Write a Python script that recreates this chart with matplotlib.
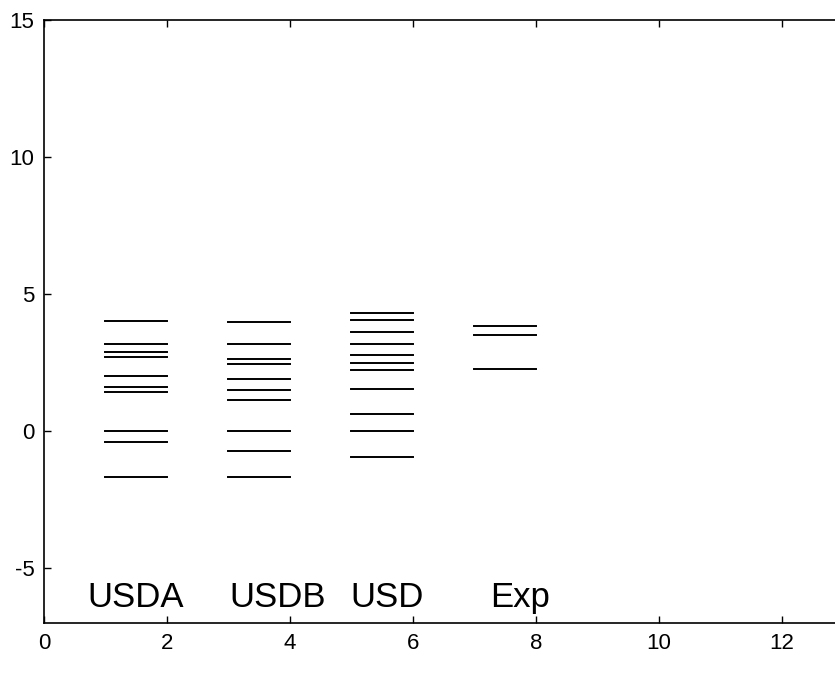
import matplotlib
matplotlib.use("Agg")
import matplotlib.pyplot as plt

plt.rcParams['font.family'] = ['Liberation Sans', 'DejaVu Sans']

# energy levels per set, drawn as short horizontal bars
usda = [4.03, 3.18, 2.89, 2.70, 2.01, 1.62, 1.41, 0.0, -0.41, -1.68]
usdb = [3.97, 3.16, 2.62, 2.46, 1.89, 1.49, 1.14, 0.0, -0.74, -1.68]
usd = [4.30, 4.04, 3.62, 3.16, 2.76, 2.49, 2.22, 1.54, 0.61, 0.0, -0.94]
exp = [3.83, 3.51, 2.27]

groups = [usda, usdb, usd, exp]
x_spans = [(1, 2), (3, 4), (5, 6), (7, 8)]
names = ["USDA", "USDB", "USD", "Exp"]
name_x = [0.70, 3.02, 4.99, 7.25]
name_y = -6.42

fig = plt.figure(figsize=(8.35, 6.81), dpi=100)
ax = fig.add_axes([0.0527, 0.0852, 0.957, 0.8855])

for levels, (x0, x1) in zip(groups, x_spans):
    for y in levels:
        ax.plot([x0, x1], [y, y], color="black", linewidth=1.4)

for label, tx in zip(names, name_x):
    ax.text(tx, name_y, label, fontsize=25, ha="left", va="baseline")

ax.set_xlim(0, 13)
ax.set_ylim(-7, 15)
ax.set_xticks([0, 2, 4, 6, 8, 10, 12])
ax.set_yticks([-5, 0, 5, 10, 15])
ax.set_yticklabels(["-5", "0", "5", "10", "15"])
ax.tick_params(direction="in", length=5, width=1, top=True, right=True,
               labelsize=16, pad=7)
for s in ax.spines.values():
    s.set_linewidth(1.2)

plt.savefig("out.png", dpi=100)
plt.close()
